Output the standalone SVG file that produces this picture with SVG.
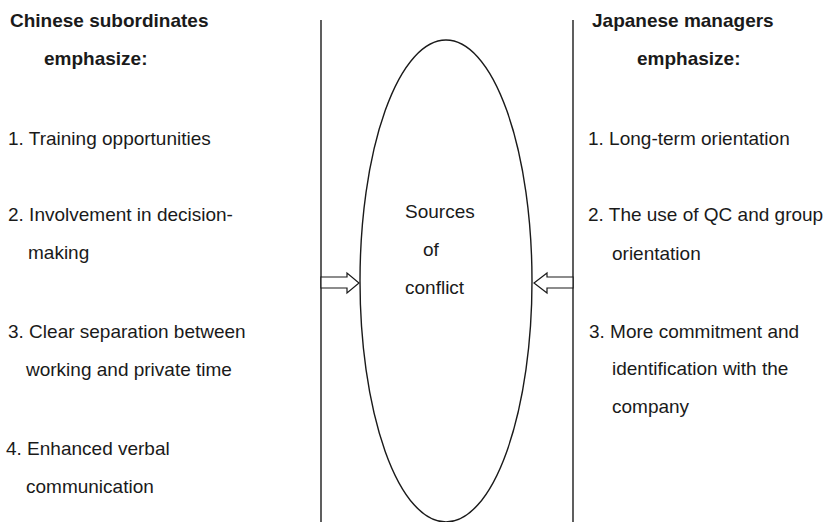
<svg xmlns="http://www.w3.org/2000/svg" width="830" height="522" viewBox="0 0 830 522">
<style>
text{font-family:"Liberation Sans",Arial,sans-serif;font-size:19px;fill:#1a1a1a}
.b{font-weight:bold}
.ln{stroke:#1a1a1a;stroke-width:1.4;fill:none}
.arr{stroke:#1a1a1a;stroke-width:1.2;fill:#fff}
</style>
<rect width="830" height="522" fill="#fff"/>
<g id="left-line"><line class="ln" x1="321" y1="20" x2="321" y2="522"/></g>
<g id="right-line"><line class="ln" x1="573" y1="20" x2="573" y2="522"/></g>
<g id="conflict">
<ellipse class="ln" cx="446" cy="281" rx="86" ry="241"/>
<text x="405" y="218">Sources</text>
<text x="423" y="256">of</text>
<text x="405" y="294">conflict</text>
</g>
<g id="chinese">
<text class="b" x="10" y="27">Chinese subordinates</text>
<text class="b" x="44" y="65">emphasize:</text>
<text x="8" y="145">1. Training opportunities</text>
<text x="8" y="221">2. Involvement in decision-</text>
<text x="28" y="259">making</text>
<text x="8" y="338">3. Clear separation between</text>
<text x="26" y="376">working and private time</text>
<text x="6" y="455">4. Enhanced verbal</text>
<text x="26" y="493">communication</text>
</g>
<g id="japanese">
<text class="b" x="592" y="27">Japanese managers</text>
<text class="b" x="637" y="65">emphasize:</text>
<text x="588" y="145">1. Long-term orientation</text>
<text x="588" y="221">2. The use of QC and group</text>
<text x="612" y="260">orientation</text>
<text x="589" y="338">3. More commitment and</text>
<text x="612" y="375">identification with the</text>
<text x="612" y="413">company</text>
</g>
<g id="connectors">
<polygon class="arr" points="321,277 347,277 347,273 359,283 347,293 347,288 321,288"/>
<polygon class="arr" points="573,277 547,277 547,273 534,283 547,293 547,288 573,288"/>
</g>
</svg>
